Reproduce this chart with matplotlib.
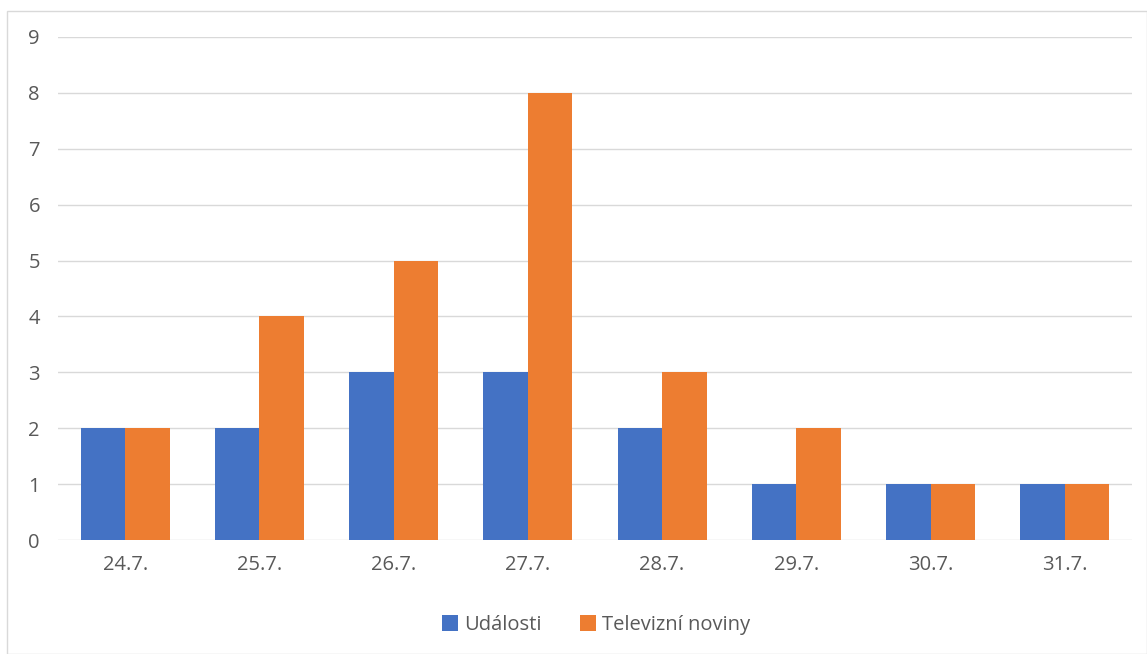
import numpy as np
import matplotlib.pyplot as plt
from matplotlib.patches import Rectangle

plt.rcParams['font.family'] = ['Open Sans', 'DejaVu Sans']

dates = ['24.7.', '25.7.', '26.7.', '27.7.', '28.7.', '29.7.', '30.7.', '31.7.']
udalosti = [2, 2, 3, 3, 2, 1, 1, 1]
televizni_noviny = [2, 4, 5, 8, 3, 2, 1, 1]

blue = '#4472C4'
orange = '#ED7D31'
grey = '#595959'

fig = plt.figure(figsize=(11.47, 6.54), dpi=100)
fig.patches.append(Rectangle((7 / 1147, 0), 1 - 7 / 1147, 1 - 11 / 654,
                             transform=fig.transFigure, fill=False,
                             edgecolor='#D9D9D9', linewidth=1))

ax = fig.add_axes([58 / 1147, 1 - 540 / 654, (1132 - 58) / 1147, (540 - 37) / 654])

x = np.arange(len(dates))
w = 0.332
ax.bar(x - w / 2, udalosti, w, color=blue, label='Události', zorder=3)
ax.bar(x + w / 2, televizni_noviny, w, color=orange, label='Televizní noviny', zorder=3)

ax.set_xlim(-0.5, len(dates) - 0.5)
ax.set_ylim(0, 9)
ax.set_yticks(range(0, 10))
ax.set_xticks(x)
ax.set_xticklabels(dates)
ax.grid(axis='y', color='#D9D9D9', linewidth=1, zorder=0)
ax.tick_params(axis='both', length=0, labelsize=14.5, labelcolor=grey)
ax.tick_params(axis='x', pad=11)
ax.tick_params(axis='y', pad=13)
for s in ax.spines.values():
    s.set_visible(False)

fig.legend(loc='center', bbox_to_anchor=(596 / 1147, 1 - 625 / 654), ncol=2, frameon=False,
           fontsize=14.5, labelcolor=grey, handlelength=0.8, handleheight=0.8,
           handletextpad=0.3, columnspacing=1.9)

fig.savefig('out.png', dpi=100)
